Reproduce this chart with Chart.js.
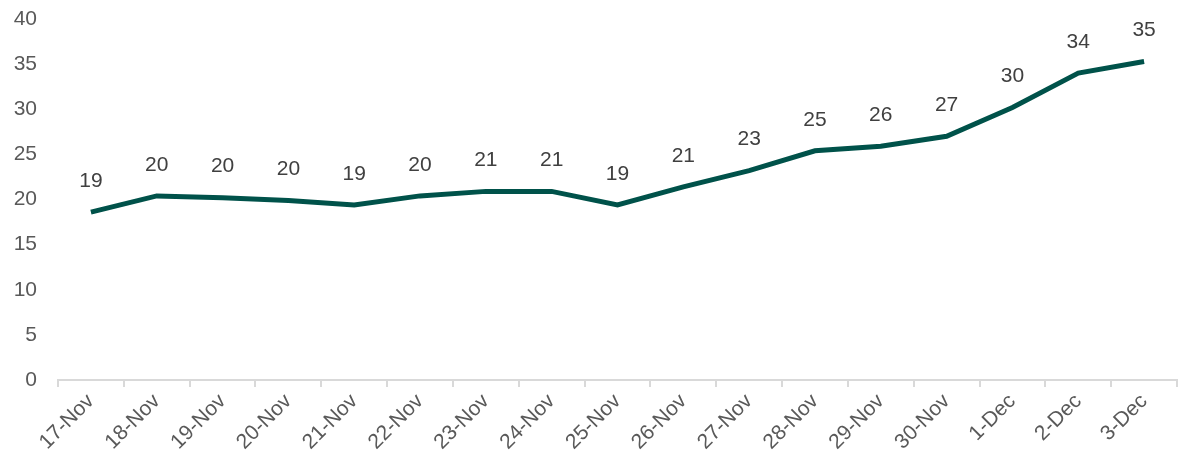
<!DOCTYPE html>
<html>
<head>
<meta charset="utf-8">
<script src="https://cdn.jsdelivr.net/npm/chart.js@4"></script>
<style>
  html, body { margin: 0; padding: 0; background: #fff; }
  #wrap { width: 1178px; height: 468px; }
</style>
</head>
<body>
<div id="wrap"><canvas id="chart"></canvas></div>
<script>
// ---- data ----
const days = ['17-Nov', '18-Nov', '19-Nov', '20-Nov', '21-Nov', '22-Nov', '23-Nov', '24-Nov',
  '25-Nov', '26-Nov', '27-Nov', '28-Nov', '29-Nov', '30-Nov', '1-Dec', '2-Dec', '3-Dec'];
const values = [18.6, 20.4, 20.2, 19.9, 19.4, 20.4, 20.9, 20.9,
  19.4, 21.4, 23.2, 25.4, 25.9, 27.0, 30.2, 34.0, 35.3];
const yTicks = [0, 5, 10, 15, 20, 25, 30, 35, 40];

const FONT = '"Liberation Sans", Arial, sans-serif';

// simple value labels above each point
const pointLabels = {
  id: 'pointLabels',
  afterDatasetsDraw(chart) {
    const ctx = chart.ctx;
    const meta = chart.getDatasetMeta(0);
    ctx.save();
    ctx.font = '21px ' + FONT;
    ctx.fillStyle = '#404040';
    ctx.textAlign = 'center';
    ctx.textBaseline = 'middle';
    meta.data.forEach(function(pt, i) {
      ctx.fillText(Math.round(values[i]).toString(), pt.x, pt.y - 31);
    });
    ctx.restore();
  }
};

new Chart(document.getElementById('chart'), {
  type: 'line',
  data: {
    labels: days,
    datasets: [{
      data: values,
      borderColor: '#00524a',
      borderWidth: 5,
      pointRadius: 0,
      tension: 0,
      fill: false
    }]
  },
  options: {
    responsive: true,
    maintainAspectRatio: false,
    animation: false,
    layout: { padding: { top: 19, right: 1, left: 0, bottom: 0 } },
    plugins: {
      legend: { display: false },
      tooltip: { enabled: false }
    },
    scales: {
      x: {
        offset: true,
        afterFit: function(axis) {
          axis.height = 88;
          axis.paddingLeft = 0;
          axis.paddingRight = 0;
        },
        grid: {
          display: true,
          offset: true,
          drawOnChartArea: false,
          drawTicks: true,
          tickLength: 7,
          color: '#d9d9d9',
          lineWidth: 2
        },
        border: { display: true, color: '#d9d9d9', width: 2 },
        ticks: {
          color: '#595959',
          font: { family: FONT, size: 21 },
          minRotation: 45,
          maxRotation: 45,
          autoSkip: false,
          padding: 2
        }
      },
      y: {
        min: 0,
        max: 40,
        afterBuildTicks: function(axis) {
          axis.ticks = yTicks.map(function(v) { return { value: v }; });
        },
        afterFit: function(axis) {
          axis.width = 58;
          axis.paddingTop = 0;
          axis.paddingBottom = 0;
        },
        grid: { display: false, drawTicks: false },
        border: { display: false },
        ticks: {
          color: '#595959',
          font: { family: FONT, size: 21 },
          padding: 21
        }
      }
    }
  },
  plugins: [pointLabels]
});
</script>
</body>
</html>
